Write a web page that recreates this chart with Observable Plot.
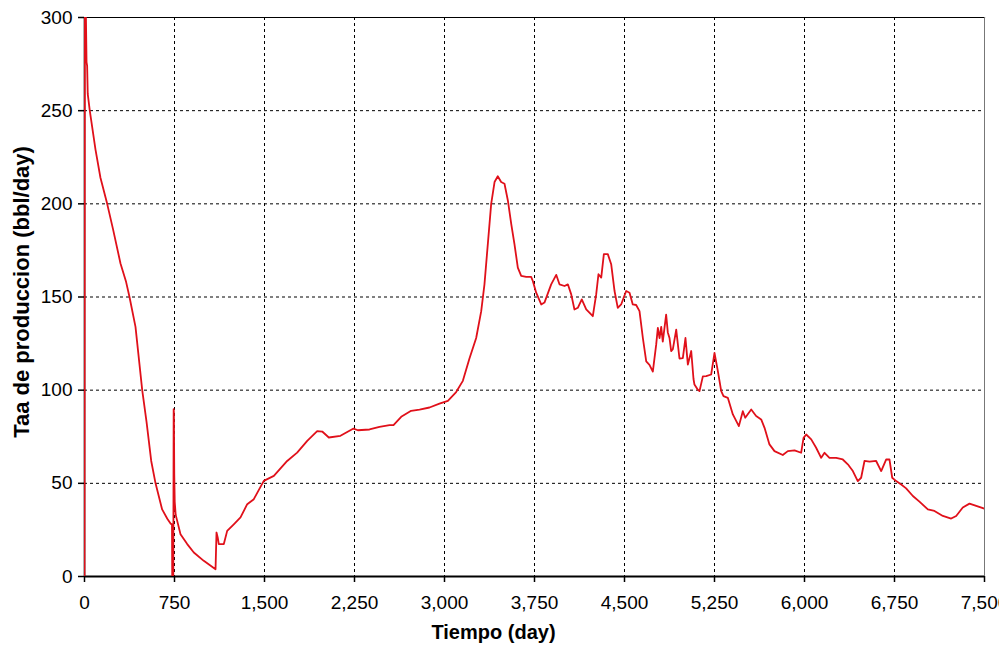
<!DOCTYPE html>
<html>
<head>
<meta charset="utf-8">
<script src="https://cdn.jsdelivr.net/npm/d3@7"></script>
<script src="https://cdn.jsdelivr.net/npm/@observablehq/plot@0.6"></script>
<style>
  html, body { margin: 0; padding: 0; background: white; overflow: hidden; }
  #chart { width: 999px; height: 645px; }
</style>
</head>
<body>
<div id="chart"></div>
<script>
const xTicks = [0, 750, 1500, 2250, 3000, 3750, 4500, 5250, 6000, 6750, 7500];
const yTicks = [0, 50, 100, 150, 200, 250, 300];
const xLabel = "Tiempo (day)";
const yLabel = "Taa de produccion (bbl/day)";

const days = [
  0, 3, 12, 17, 22, 27, 44, 92, 133, 189, 239, 300, 347, 375, 425, 458, 481, 517, 556, 592,
  647, 690, 717, 729, 731, 740, 743, 745, 748, 752, 760, 772, 800, 856, 911, 994, 1092,
  1100, 1110, 1119, 1161, 1189, 1244, 1300, 1356, 1411, 1494, 1578, 1689, 1772, 1856, 1939,
  1981, 2036, 2133, 2208, 2242, 2278, 2375, 2458, 2542, 2575, 2639, 2722, 2792, 2875, 2958,
  3028, 3097, 3153, 3208, 3264, 3306, 3333, 3361, 3389, 3417, 3444, 3472, 3500, 3528, 3556,
  3583, 3611, 3639, 3681, 3722, 3736, 3764, 3806, 3833, 3889, 3931, 3958, 4000, 4028, 4056,
  4083, 4111, 4144, 4181, 4236, 4264, 4283, 4306, 4328, 4361, 4389, 4417, 4444, 4472, 4514,
  4542, 4569, 4597, 4625, 4653, 4681, 4708, 4736, 4764, 4778, 4792, 4806, 4819, 4847, 4861,
  4875, 4889, 4903, 4931, 4958, 4986, 5008, 5028, 5056, 5075, 5083, 5111, 5125, 5153, 5181,
  5222, 5250, 5278, 5306, 5325, 5361, 5403,
  5453, 5486, 5506, 5556, 5597, 5639, 5667, 5708, 5750, 5819, 5861, 5917, 5972, 5992, 6014,
  6056, 6097, 6139, 6167, 6208, 6264, 6319, 6361, 6403, 6444, 6472, 6500, 6542, 6597, 6639,
  6681, 6708, 6731, 6764, 6806, 6847, 6903, 6958, 7028, 7083, 7153, 7222, 7264, 7319, 7375,
  7431, 7500
];
const rate = [
  0, 330, 300, 276, 274, 259, 250, 229, 214, 200, 186, 168, 158, 150, 134, 114, 100, 83, 62, 50,
  36, 31, 28.4, 28, 0, 0, 89.8, 88, 55, 40, 33, 30, 22.7, 17.4, 12.9, 8.4, 3.9,
  23.6, 21, 17.4, 17.4, 24.5, 28, 31.7, 38.8, 41.5, 51.3, 54, 62, 66.5, 72.8, 78,
  77.8, 74.6, 75.5, 78.2, 79.4, 78.5, 78.9, 80.3, 81.2, 81.2, 85.7, 88.9, 89.6, 90.7, 92.8,
  94.3, 99, 105, 117, 128, 142.4, 156.8, 178.4, 200, 211.7, 214.8, 211.7, 210.8, 201.8, 189.2,
  178.4, 165.8, 161.3, 160.8, 160.8, 158.6, 152.3, 146, 147, 156.8, 161.9, 156.8, 155.9, 156.8, 151.4,
  143.3, 144.2, 148.7, 143.3, 139.7, 151.4, 162.2, 160.4, 173, 173, 167.6, 153.2, 144.2, 146, 153.2,
  152.3, 146, 145.7, 142.4, 128, 115.4, 113.6, 110, 124.4, 133.4, 128, 134, 126, 140.5, 131,
  128, 121, 122, 132.5, 117, 117.2, 128, 113.7, 121, 106, 103, 100.2, 99.5, 107.4, 107.5,
  108.4, 120, 110.2, 99.5, 96.8, 95.9, 87,
  80.7, 88.7, 85.2, 89.6, 86.1, 84.3, 79.8, 70.9, 67.3, 65.2, 67.3, 67.7, 66.4, 74.4, 76.2,
  73.6, 69.1, 63.7, 66.4, 63.7, 63.7, 62.8, 60.2, 56.6, 51.2, 53, 62, 61.6, 62, 56.6,
  62.8, 62.8, 53, 51.2, 49.4, 47.3, 43.2, 40.2, 36, 35.2, 32.5, 31.1, 32.5, 37, 39.1,
  37.9, 36.4
];

const data = days.map((d, i) => ({day: d, rate: rate[i]}));
const font = "'Liberation Sans', Arial, sans-serif";

const chart = Plot.plot({
  width: 999,
  height: 645,
  marginLeft: 84,
  marginRight: 15,
  marginTop: 17,
  marginBottom: 69,
  style: {fontFamily: font, fontSize: "19px", color: "black", background: "white"},
  x: {domain: [0, 7500]},
  y: {domain: [0, 300]},
  marks: [
    Plot.gridX(xTicks.slice(1, -1), {stroke: "black", strokeOpacity: 1, strokeDasharray: "3,3"}),
    Plot.gridY(yTicks.slice(1, -1), {stroke: "black", strokeOpacity: 1, strokeDasharray: "3,3"}),
    Plot.frame({anchor: "top", stroke: "black", strokeWidth: 1.2}),
    Plot.frame({anchor: "right", stroke: "#777", strokeWidth: 1}),
    Plot.axisX({ticks: xTicks, tickFormat: d3.format(","), tickSize: 6, tickPadding: 13, label: null, fontSize: 19, strokeWidth: 1.5}),
    Plot.axisY({ticks: yTicks, tickSize: 6, tickPadding: 6, label: null, fontSize: 19, strokeWidth: 1.5}),
    Plot.ruleY([0], {stroke: "black", strokeWidth: 2.2}),
    Plot.ruleX([0], {stroke: "black", strokeWidth: 1.6}),
    Plot.line(data, {x: "day", y: "rate", stroke: "#e0101a", strokeWidth: 1.8, clip: true}),
    Plot.text([xLabel], {frameAnchor: "bottom", textAnchor: "middle", lineAnchor: "middle", dx: -41, dy: 56, fontWeight: "bold", fontSize: 20, fill: "black"}),
    Plot.text([yLabel], {frameAnchor: "left", textAnchor: "middle", lineAnchor: "middle", rotate: -90, dx: -63, dy: -5, fontWeight: "bold", fontSize: 22, fill: "black"})
  ]
});
document.getElementById("chart").appendChild(chart);
</script>
</body>
</html>
